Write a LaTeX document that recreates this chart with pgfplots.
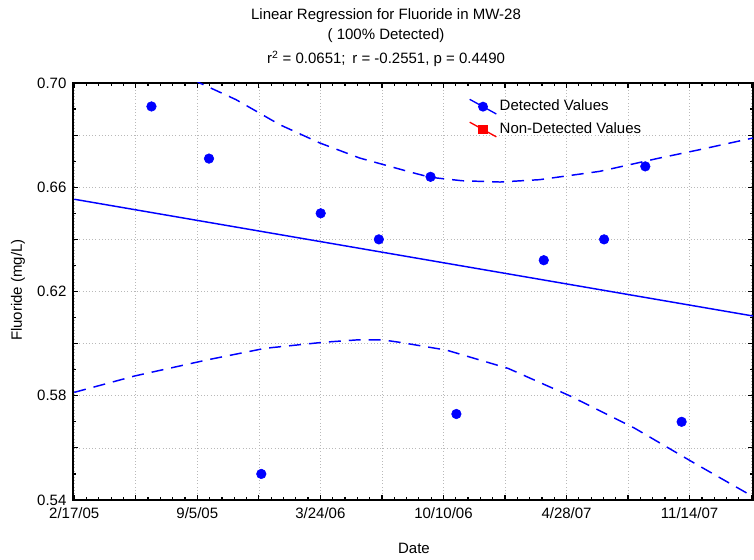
\documentclass[border=0pt]{standalone}
\usepackage{pgfplots}
\pgfplotsset{compat=1.18}
\usepackage{fontspec}
\setmainfont{Liberation Sans}
\definecolor{pblue}{RGB}{0,0,255}
\begin{document}
\fontsize{11.25}{13.5}\selectfont
\begin{tikzpicture}
\begin{axis}[
 at={(0,0)}, anchor=south west,
 scale only axis, width=510pt, height=312.75pt,
 xmin=-2, xmax=1103, ymin=0.54, ymax=0.70,
 xtick={0,100,200,300,400,500,600,700,800,900,1000,1100},
 xticklabels={2/17/05,,9/5/05,,3/24/06,,10/10/06,,4/28/07,,11/14/07,},
 minor x tick num=4,
 ytick={0.54,0.56,0.58,0.60,0.62,0.64,0.66,0.68,0.70},
 yticklabels={0.54,,0.58,,0.62,,0.66,,0.70},
 minor y tick num=1,
 tick align=inside,
 major tick length=4pt, minor tick length=2.5pt,
 every tick/.style={black, line width=0.9pt},
 axis line style={line width=1.4pt},
 grid=major, major grid style={dotted, gray!55, line width=0.5pt},
 tick label style={font=\fontsize{11.25}{13.5}\selectfont},
 xticklabel style={yshift=-2pt},
 yticklabel style={xshift=-1pt},
 /pgf/number format/assume math mode=true,
 legend style={at={(0.582,0.966)}, anchor=north west, draw=none, fill=none,
   font=\fontsize{11.25}{13.5}\selectfont, row sep=3.3pt, inner sep=0pt,
   cells={anchor=west}},
 legend image code/.code={\draw[#1, mark repeat=2, mark phase=2] plot coordinates {(0pt,5.5pt) (10pt,0pt) (20pt,-5.5pt)};},
]
\addlegendimage{pblue, line width=1pt, mark=*, mark size=3.2pt}
\addlegendentry{Detected Values}
\addlegendimage{red, line width=1pt, mark=square*, mark size=3pt}
\addlegendentry{Non-Detected Values}

\addplot[forget plot, pblue, line width=1.1pt] coordinates {(0,0.6554) (1103,0.6106)};
\addplot[forget plot, pblue, line width=1.1pt, dash pattern=on 9pt off 6pt] coordinates {
 (0,0.730) (100,0.7152) (204,0.700) (263,0.6936) (334,0.684) (399,0.677) (464,0.6712)
 (548,0.6657) (579,0.6638) (630,0.6625) (692,0.662) (756,0.6629) (854,0.6661)
 (951,0.6712) (1016,0.6744) (1103,0.6789)};
\addplot[forget plot, pblue, line width=1.1pt, dash pattern=on 9pt off 6pt] coordinates {
 (0,0.5813) (98.5,0.5876) (215,0.5937) (310,0.5982) (404,0.6005) (458,0.6014)
 (502,0.6014) (529,0.6005) (605,0.5975) (705,0.5905) (805,0.580) (911,0.5675)
 (1008,0.5541) (1103,0.5413)};
\addplot[forget plot, only marks, pblue, mark=*, mark size=3.6pt] coordinates {
 (125.5,0.691) (219,0.671) (304,0.550) (400.5,0.650) (495,0.640) (579,0.664)
 (621,0.573) (763,0.632) (861,0.640) (928,0.668) (987,0.570)};
\end{axis}
\node at (234.75pt,363pt) {Linear Regression for Fluoride in MW-28};
\node at (234.75pt,348pt) {( 100\% Detected)};
\node at (234.75pt,331pt) {r\textsuperscript{2} = 0.0651;\, r = -0.2551, p = 0.4490};
\node at (255.75pt,-36pt) {Date};
\node[rotate=90] at (-41.25pt,157.5pt) {Fluoride (mg/L)};
\pgfresetboundingbox
\path (-54.75pt,-45pt) rectangle (510.75pt,375pt);
\end{tikzpicture}
\end{document}
